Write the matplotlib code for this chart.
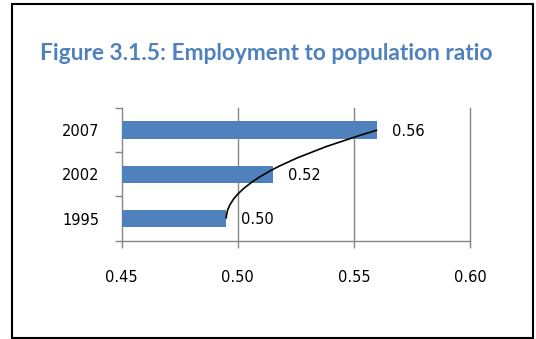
import matplotlib
matplotlib.use("Agg")
import matplotlib.pyplot as plt
from matplotlib.path import Path
from matplotlib.patches import PathPatch, Rectangle

years = ["1995", "2002", "2007"]
ratios = [0.495, 0.515, 0.560]
value_labels = ["0.50", "0.52", "0.56"]
x_ticks = [0.45, 0.50, 0.55, 0.60]
x_tick_labels = ["0.45", "0.50", "0.55", "0.60"]
title = "Figure 3.1.5: Employment to population ratio"

BLUE = "#4F81BD"
GRAY = "#868686"

fig = plt.figure(figsize=(5.36, 3.39), dpi=100)
ax = fig.add_axes([0.2271, 0.29, 0.8769 - 0.2271, 0.6814 - 0.29])

ypos = list(range(len(years)))
ax.barh(ypos, [r - x_ticks[0] for r in ratios], left=x_ticks[0], height=0.40,
        color=BLUE, zorder=3)

ax.set_xlim(x_ticks[0], x_ticks[-1])
ax.set_ylim(-0.5, len(years) - 0.5)
ax.set_xticks(x_ticks)
ax.set_xticklabels(x_tick_labels)
ax.set_yticks(ypos)
ax.set_yticklabels(years)
# category boundary ticks
ax.set_yticks([i - 0.5 for i in range(len(years) + 1)], minor=True)
ax.tick_params(axis="y", which="major", length=0, pad=16, labelsize=10.5)
ax.tick_params(axis="y", which="minor", length=5, color=GRAY, width=1)
ax.tick_params(axis="x", length=5, color=GRAY, width=1, pad=16, labelsize=10.5)
ax.set_axisbelow(True)
for xv in x_ticks[1:]:
    ax.axvline(xv, color=GRAY, linewidth=1, zorder=0, clip_on=False)
for s in ["top", "right"]:
    ax.spines[s].set_visible(False)
for s in ["left", "bottom"]:
    ax.spines[s].set_color(GRAY)
    ax.spines[s].set_linewidth(1)

for y, r, lab in zip(ypos, ratios, value_labels):
    ax.annotate(lab, (r, y), xytext=(11, -1), textcoords="offset points",
                va="center", ha="left", fontsize=10.5)

# smooth connecting curve from first bar end to last bar end
verts = [(ratios[0], ypos[0]), (ratios[0], ypos[1]), (ratios[-1], ypos[-1])]
path = Path(verts, [Path.MOVETO, Path.CURVE3, Path.CURVE3])
ax.add_patch(PathPatch(path, facecolor="none", edgecolor="black", lw=1.2, zorder=4))

fig.text(0.4965, 0.843, title, ha="center", va="center", fontsize=16.4,
         fontweight="bold", color=BLUE, family=["Lato", "DejaVu Sans"])

fig.patches.append(Rectangle((0.0233, 0.0044), 0.9953 - 0.0233, 0.988 - 0.0044,
                             transform=fig.transFigure, fill=False,
                             edgecolor="black", linewidth=1.5))

fig.savefig("out.png", dpi=100)
